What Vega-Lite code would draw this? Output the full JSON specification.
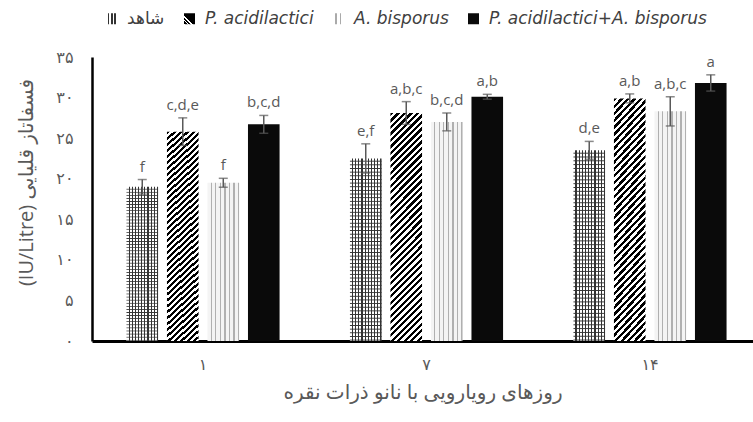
{
  "$schema": "https://vega.github.io/schema/vega-lite/v6.json",
  "width": 661,
  "height": 284,
  "autosize": {"type": "none"},
  "padding": {"left": 92, "top": 57, "right": 0, "bottom": 81},
  "background": "#ffffff",
  "config": {"view": {"stroke": null}, "font": "Open Sans, DejaVu Sans"},
  "params": [
    {"name": "gA", "value": {"gradient": "linear", "x1": 0, "y1": 0, "x2": 1, "y2": 0, "stops": [
      {"offset": 0, "color": "#fff"}, {"offset": 0.065, "color": "#fff"}, {"offset": 0.065, "color": "#333"}, {"offset": 0.1, "color": "#333"},
      {"offset": 0.1, "color": "#fff"}, {"offset": 0.165, "color": "#fff"}, {"offset": 0.165, "color": "#333"}, {"offset": 0.2, "color": "#333"},
      {"offset": 0.2, "color": "#fff"}, {"offset": 0.265, "color": "#fff"}, {"offset": 0.265, "color": "#333"}, {"offset": 0.3, "color": "#333"},
      {"offset": 0.3, "color": "#fff"}, {"offset": 0.365, "color": "#fff"}, {"offset": 0.365, "color": "#333"}, {"offset": 0.4, "color": "#333"},
      {"offset": 0.4, "color": "#fff"}, {"offset": 0.465, "color": "#fff"}, {"offset": 0.465, "color": "#333"}, {"offset": 0.5, "color": "#333"},
      {"offset": 0.5, "color": "#fff"}, {"offset": 0.565, "color": "#fff"}, {"offset": 0.565, "color": "#333"}, {"offset": 0.6, "color": "#333"},
      {"offset": 0.6, "color": "#fff"}, {"offset": 0.665, "color": "#fff"}, {"offset": 0.665, "color": "#333"}, {"offset": 0.7, "color": "#333"},
      {"offset": 0.7, "color": "#fff"}, {"offset": 0.765, "color": "#fff"}, {"offset": 0.765, "color": "#333"}, {"offset": 0.8, "color": "#333"},
      {"offset": 0.8, "color": "#fff"}, {"offset": 0.865, "color": "#fff"}, {"offset": 0.865, "color": "#333"}, {"offset": 0.9, "color": "#333"},
      {"offset": 0.9, "color": "#fff"}, {"offset": 0.965, "color": "#fff"}, {"offset": 0.965, "color": "#333"}, {"offset": 1, "color": "#333"}
    ]}},
    {"name": "gLA", "value": {"gradient": "linear", "x1": 0, "y1": 0, "x2": 1, "y2": 0, "stops": [
      {"offset": 0, "color": "#fff"}, {"offset": 0.15, "color": "#fff"}, {"offset": 0.15, "color": "#333"}, {"offset": 0.3, "color": "#333"},
      {"offset": 0.3, "color": "#fff"}, {"offset": 0.45, "color": "#fff"}, {"offset": 0.45, "color": "#333"}, {"offset": 0.6, "color": "#333"},
      {"offset": 0.6, "color": "#fff"}, {"offset": 0.75, "color": "#fff"}, {"offset": 0.75, "color": "#333"}, {"offset": 0.9, "color": "#333"},
      {"offset": 0.9, "color": "#fff"}, {"offset": 1, "color": "#fff"}
    ]}},
    {"name": "gP", "value": {"gradient": "linear", "x1": 0, "y1": 0, "x2": 0.156, "y2": 1.12, "stops": [
      {"offset": 0, "color": "#000"},
      {"offset": 0.0125, "color": "#000"}, {"offset": 0.0125, "color": "#fff"},
      {"offset": 0.025, "color": "#fff"}, {"offset": 0.025, "color": "#000"},
      {"offset": 0.0375, "color": "#000"}, {"offset": 0.0375, "color": "#fff"},
      {"offset": 0.05, "color": "#fff"}, {"offset": 0.05, "color": "#000"},
      {"offset": 0.0625, "color": "#000"}, {"offset": 0.0625, "color": "#fff"},
      {"offset": 0.075, "color": "#fff"}, {"offset": 0.075, "color": "#000"},
      {"offset": 0.0875, "color": "#000"}, {"offset": 0.0875, "color": "#fff"},
      {"offset": 0.1, "color": "#fff"}, {"offset": 0.1, "color": "#000"},
      {"offset": 0.1125, "color": "#000"}, {"offset": 0.1125, "color": "#fff"},
      {"offset": 0.125, "color": "#fff"}, {"offset": 0.125, "color": "#000"},
      {"offset": 0.1375, "color": "#000"}, {"offset": 0.1375, "color": "#fff"},
      {"offset": 0.15, "color": "#fff"}, {"offset": 0.15, "color": "#000"},
      {"offset": 0.1625, "color": "#000"}, {"offset": 0.1625, "color": "#fff"},
      {"offset": 0.175, "color": "#fff"}, {"offset": 0.175, "color": "#000"},
      {"offset": 0.1875, "color": "#000"}, {"offset": 0.1875, "color": "#fff"},
      {"offset": 0.2, "color": "#fff"}, {"offset": 0.2, "color": "#000"},
      {"offset": 0.2125, "color": "#000"}, {"offset": 0.2125, "color": "#fff"},
      {"offset": 0.225, "color": "#fff"}, {"offset": 0.225, "color": "#000"},
      {"offset": 0.2375, "color": "#000"}, {"offset": 0.2375, "color": "#fff"},
      {"offset": 0.25, "color": "#fff"}, {"offset": 0.25, "color": "#000"},
      {"offset": 0.2625, "color": "#000"}, {"offset": 0.2625, "color": "#fff"},
      {"offset": 0.275, "color": "#fff"}, {"offset": 0.275, "color": "#000"},
      {"offset": 0.2875, "color": "#000"}, {"offset": 0.2875, "color": "#fff"},
      {"offset": 0.3, "color": "#fff"}, {"offset": 0.3, "color": "#000"},
      {"offset": 0.3125, "color": "#000"}, {"offset": 0.3125, "color": "#fff"},
      {"offset": 0.325, "color": "#fff"}, {"offset": 0.325, "color": "#000"},
      {"offset": 0.3375, "color": "#000"}, {"offset": 0.3375, "color": "#fff"},
      {"offset": 0.35, "color": "#fff"}, {"offset": 0.35, "color": "#000"},
      {"offset": 0.3625, "color": "#000"}, {"offset": 0.3625, "color": "#fff"},
      {"offset": 0.375, "color": "#fff"}, {"offset": 0.375, "color": "#000"},
      {"offset": 0.3875, "color": "#000"}, {"offset": 0.3875, "color": "#fff"},
      {"offset": 0.4, "color": "#fff"}, {"offset": 0.4, "color": "#000"},
      {"offset": 0.4125, "color": "#000"}, {"offset": 0.4125, "color": "#fff"},
      {"offset": 0.425, "color": "#fff"}, {"offset": 0.425, "color": "#000"},
      {"offset": 0.4375, "color": "#000"}, {"offset": 0.4375, "color": "#fff"},
      {"offset": 0.45, "color": "#fff"}, {"offset": 0.45, "color": "#000"},
      {"offset": 0.4625, "color": "#000"}, {"offset": 0.4625, "color": "#fff"},
      {"offset": 0.475, "color": "#fff"}, {"offset": 0.475, "color": "#000"},
      {"offset": 0.4875, "color": "#000"}, {"offset": 0.4875, "color": "#fff"},
      {"offset": 0.5, "color": "#fff"}, {"offset": 0.5, "color": "#000"},
      {"offset": 0.5125, "color": "#000"}, {"offset": 0.5125, "color": "#fff"},
      {"offset": 0.525, "color": "#fff"}, {"offset": 0.525, "color": "#000"},
      {"offset": 0.5375, "color": "#000"}, {"offset": 0.5375, "color": "#fff"},
      {"offset": 0.55, "color": "#fff"}, {"offset": 0.55, "color": "#000"},
      {"offset": 0.5625, "color": "#000"}, {"offset": 0.5625, "color": "#fff"},
      {"offset": 0.575, "color": "#fff"}, {"offset": 0.575, "color": "#000"},
      {"offset": 0.5875, "color": "#000"}, {"offset": 0.5875, "color": "#fff"},
      {"offset": 0.6, "color": "#fff"}, {"offset": 0.6, "color": "#000"},
      {"offset": 0.6125, "color": "#000"}, {"offset": 0.6125, "color": "#fff"},
      {"offset": 0.625, "color": "#fff"}, {"offset": 0.625, "color": "#000"},
      {"offset": 0.6375, "color": "#000"}, {"offset": 0.6375, "color": "#fff"},
      {"offset": 0.65, "color": "#fff"}, {"offset": 0.65, "color": "#000"},
      {"offset": 0.6625, "color": "#000"}, {"offset": 0.6625, "color": "#fff"},
      {"offset": 0.675, "color": "#fff"}, {"offset": 0.675, "color": "#000"},
      {"offset": 0.6875, "color": "#000"}, {"offset": 0.6875, "color": "#fff"},
      {"offset": 0.7, "color": "#fff"}, {"offset": 0.7, "color": "#000"},
      {"offset": 0.7125, "color": "#000"}, {"offset": 0.7125, "color": "#fff"},
      {"offset": 0.725, "color": "#fff"}, {"offset": 0.725, "color": "#000"},
      {"offset": 0.7375, "color": "#000"}, {"offset": 0.7375, "color": "#fff"},
      {"offset": 0.75, "color": "#fff"}, {"offset": 0.75, "color": "#000"},
      {"offset": 0.7625, "color": "#000"}, {"offset": 0.7625, "color": "#fff"},
      {"offset": 0.775, "color": "#fff"}, {"offset": 0.775, "color": "#000"},
      {"offset": 0.7875, "color": "#000"}, {"offset": 0.7875, "color": "#fff"},
      {"offset": 0.8, "color": "#fff"}, {"offset": 0.8, "color": "#000"},
      {"offset": 0.8125, "color": "#000"}, {"offset": 0.8125, "color": "#fff"},
      {"offset": 0.825, "color": "#fff"}, {"offset": 0.825, "color": "#000"},
      {"offset": 0.8375, "color": "#000"}, {"offset": 0.8375, "color": "#fff"},
      {"offset": 0.85, "color": "#fff"}, {"offset": 0.85, "color": "#000"},
      {"offset": 0.8625, "color": "#000"}, {"offset": 0.8625, "color": "#fff"},
      {"offset": 0.875, "color": "#fff"}, {"offset": 0.875, "color": "#000"},
      {"offset": 0.8875, "color": "#000"}, {"offset": 0.8875, "color": "#fff"},
      {"offset": 0.9, "color": "#fff"}, {"offset": 0.9, "color": "#000"},
      {"offset": 0.9125, "color": "#000"}, {"offset": 0.9125, "color": "#fff"},
      {"offset": 0.925, "color": "#fff"}, {"offset": 0.925, "color": "#000"},
      {"offset": 0.9375, "color": "#000"}, {"offset": 0.9375, "color": "#fff"},
      {"offset": 0.95, "color": "#fff"}, {"offset": 0.95, "color": "#000"},
      {"offset": 0.9625, "color": "#000"}, {"offset": 0.9625, "color": "#fff"},
      {"offset": 0.975, "color": "#fff"}, {"offset": 0.975, "color": "#000"},
      {"offset": 0.9875, "color": "#000"}, {"offset": 0.9875, "color": "#fff"},
      {"offset": 1, "color": "#fff"}
    ]}},
    {"name": "gL", "value": {"gradient": "linear", "x1": 0, "y1": 1, "x2": 0.5, "y2": 0.5, "stops": [
      {"offset": 0, "color": "#fff"}, {"offset": 0.1, "color": "#fff"}, {"offset": 0.1, "color": "#000"}, {"offset": 0.3, "color": "#000"},
      {"offset": 0.3, "color": "#fff"}, {"offset": 0.45, "color": "#fff"}, {"offset": 0.45, "color": "#000"}, {"offset": 0.65, "color": "#000"},
      {"offset": 0.65, "color": "#fff"}, {"offset": 0.8, "color": "#fff"}, {"offset": 0.8, "color": "#000"}, {"offset": 1, "color": "#000"}
    ]}},
    {"name": "gB", "value": {"gradient": "linear", "x1": 0, "y1": 0, "x2": 1, "y2": 0, "stops": [
      {"offset": 0, "color": "#f4f4f4"}, {"offset": 0.1, "color": "#f4f4f4"}, {"offset": 0.1, "color": "#b0b0b0"}, {"offset": 0.142857, "color": "#b0b0b0"},
      {"offset": 0.142857, "color": "#f4f4f4"}, {"offset": 0.242857, "color": "#f4f4f4"}, {"offset": 0.242857, "color": "#b0b0b0"}, {"offset": 0.285714, "color": "#b0b0b0"},
      {"offset": 0.285714, "color": "#f4f4f4"}, {"offset": 0.385714, "color": "#f4f4f4"}, {"offset": 0.385714, "color": "#b0b0b0"}, {"offset": 0.428571, "color": "#b0b0b0"},
      {"offset": 0.428571, "color": "#f4f4f4"}, {"offset": 0.528571, "color": "#f4f4f4"}, {"offset": 0.528571, "color": "#b0b0b0"}, {"offset": 0.571429, "color": "#b0b0b0"},
      {"offset": 0.571429, "color": "#f4f4f4"}, {"offset": 0.671429, "color": "#f4f4f4"}, {"offset": 0.671429, "color": "#b0b0b0"}, {"offset": 0.714286, "color": "#b0b0b0"},
      {"offset": 0.714286, "color": "#f4f4f4"}, {"offset": 0.814286, "color": "#f4f4f4"}, {"offset": 0.814286, "color": "#b0b0b0"}, {"offset": 0.857143, "color": "#b0b0b0"},
      {"offset": 0.857143, "color": "#f4f4f4"}, {"offset": 0.957143, "color": "#f4f4f4"}, {"offset": 0.957143, "color": "#b0b0b0"}, {"offset": 1, "color": "#b0b0b0"}
    ]}},
    {"name": "gLB", "value": {"gradient": "linear", "x1": 0, "y1": 0, "x2": 1, "y2": 0, "stops": [
      {"offset": 0, "color": "#fff"}, {"offset": 0.2, "color": "#fff"}, {"offset": 0.2, "color": "#aaa"}, {"offset": 0.35, "color": "#aaa"},
      {"offset": 0.35, "color": "#fff"}, {"offset": 0.6, "color": "#fff"}, {"offset": 0.6, "color": "#aaa"}, {"offset": 0.75, "color": "#aaa"},
      {"offset": 0.75, "color": "#fff"}, {"offset": 1, "color": "#fff"}
    ]}}
  ],
  "data": {"values": [
    {"day": "۱", "group": "شاهد", "mean": 19.0, "lo": 18.1, "hi": 19.9, "letter": "f"},
    {"day": "۱", "group": "P. acidilactici", "mean": 25.8, "lo": 24.1, "hi": 27.5, "letter": "c,d,e"},
    {"day": "۱", "group": "A. bisporus", "mean": 19.5, "lo": 18.95, "hi": 20.05, "letter": "f"},
    {"day": "۱", "group": "P. acidilactici+A. bisporus", "mean": 26.7, "lo": 25.6, "hi": 27.8, "letter": "b,c,d"},
    {"day": "۷", "group": "شاهد", "mean": 22.5, "lo": 20.7, "hi": 24.3, "letter": "e,f"},
    {"day": "۷", "group": "P. acidilactici", "mean": 28.1, "lo": 26.7, "hi": 29.5, "letter": "a,b,c"},
    {"day": "۷", "group": "A. bisporus", "mean": 27.0, "lo": 25.9, "hi": 28.1, "letter": "b,c,d"},
    {"day": "۷", "group": "P. acidilactici+A. bisporus", "mean": 30.1, "lo": 29.8, "hi": 30.4, "letter": "a,b"},
    {"day": "۱۴", "group": "شاهد", "mean": 23.5, "lo": 22.4, "hi": 24.6, "letter": "d,e"},
    {"day": "۱۴", "group": "P. acidilactici", "mean": 29.9, "lo": 29.35, "hi": 30.45, "letter": "a,b"},
    {"day": "۱۴", "group": "A. bisporus", "mean": 28.3, "lo": 26.5, "hi": 30.1, "letter": "a,b,c"},
    {"day": "۱۴", "group": "P. acidilactici+A. bisporus", "mean": 31.8, "lo": 30.8, "hi": 32.8, "letter": "a"}
  ]},
  "encoding": {
    "x": {"field": "day", "type": "nominal",
      "scale": {"domain": ["۱", "۷", "۱۴"], "paddingInner": 0.275, "paddingOuter": 0.1163, "align": 0.577},
      "axis": {"title": "روزهای رویارویی با نانو ذرات نقره", "labelAngle": 0, "ticks": false,
        "domainColor": "#000000", "domainWidth": 3, "labelFontSize": 16, "labelColor": "#595959",
        "labelPadding": 15, "titleFontSize": 20, "titleColor": "#595959", "titleFontWeight": "normal", "titlePadding": 10}},
    "xOffset": {"field": "group", "type": "nominal",
      "scale": {"domain": ["شاهد", "P. acidilactici", "A. bisporus", "P. acidilactici+A. bisporus"], "paddingInner": 0.22, "paddingOuter": 0.11}},
    "y": {"field": "mean", "type": "quantitative",
      "scale": {"domain": [0, 35], "nice": false},
      "axis": {"values": [0, 5, 10, 15, 20, 25, 30, 35], "grid": false, "ticks": false,
        "domainColor": "#000000", "domainWidth": 2.5, "labelFontSize": 16, "labelColor": "#595959", "labelPadding": 19,
        "labelExpr": "replace(replace(replace(replace(replace(datum.label,'0','۰'),'1','۱'),'2','۲'),'3','۳'),'5','۵')",
        "title": "(IU/Litre) فسفاتاز قلیایی", "titleFontSize": 20, "titleColor": "#595959", "titleFontWeight": "normal",
        "titleX": -66, "titleY": 125, "titleAngle": -90, "titleAlign": "center", "titleBaseline": "middle"}}
  },
  "layer": [
    {
      "mark": {"type": "point", "filled": true, "opacity": 0, "size": 0,
        "fill": {"expr": "(datum.group || datum.value) == 'شاهد' ? gLA : (datum.group || datum.value) == 'P. acidilactici' ? gL : (datum.group || datum.value) == 'A. bisporus' ? gLB : '#0a0a0a'"}},
      "encoding": {
        "shape": {"field": "group", "type": "nominal",
          "scale": {"domain": ["شاهد", "P. acidilactici", "A. bisporus", "P. acidilactici+A. bisporus"],
            "range": ["square", "square", "square", "square"]},
          "legend": {"orient": "none", "legendX": 11, "legendY": -47, "direction": "horizontal", "title": null,
            "symbolSize": 121, "symbolStrokeWidth": 0, "symbolOpacity": 1, "labelFontSize": 17, "labelFont": "DejaVu Sans",
            "labelFontStyle": {"expr": "datum.value == 'شاهد' ? 'normal' : 'italic'"},
            "labelColor": "#404040", "labelOffset": 7, "columnPadding": 16, "labelLimit": 400}}
      }
    },
    {
      "mark": {"type": "bar", "fill": {"expr": "datum.group == 'شاهد' ? gA : datum.group == 'P. acidilactici' ? gP : datum.group == 'A. bisporus' ? gB : '#0a0a0a'"}}
    },
    {
      "transform": [{"filter": "datum.group == 'شاهد'"}],
      "mark": {"type": "bar", "fill": {"gradient": "linear", "x1": 0, "y1": 0, "x2": 0, "y2": 1, "stops": [
        {"offset": 0, "color": "rgba(51,51,51,0)"}, {"offset": 0.01, "color": "rgba(51,51,51,0)"}, {"offset": 0.015, "color": "#333"},
        {"offset": 0.02, "color": "rgba(51,51,51,0)"}, {"offset": 0.03, "color": "rgba(51,51,51,0)"}, {"offset": 0.035, "color": "#333"},
        {"offset": 0.04, "color": "rgba(51,51,51,0)"}, {"offset": 0.05, "color": "rgba(51,51,51,0)"}, {"offset": 0.055, "color": "#333"},
        {"offset": 0.06, "color": "rgba(51,51,51,0)"}, {"offset": 0.07, "color": "rgba(51,51,51,0)"}, {"offset": 0.075, "color": "#333"},
        {"offset": 0.08, "color": "rgba(51,51,51,0)"}, {"offset": 0.09, "color": "rgba(51,51,51,0)"}, {"offset": 0.095, "color": "#333"},
        {"offset": 0.1, "color": "rgba(51,51,51,0)"}, {"offset": 0.11, "color": "rgba(51,51,51,0)"}, {"offset": 0.115, "color": "#333"},
        {"offset": 0.12, "color": "rgba(51,51,51,0)"}, {"offset": 0.13, "color": "rgba(51,51,51,0)"}, {"offset": 0.135, "color": "#333"},
        {"offset": 0.14, "color": "rgba(51,51,51,0)"}, {"offset": 0.15, "color": "rgba(51,51,51,0)"}, {"offset": 0.155, "color": "#333"},
        {"offset": 0.16, "color": "rgba(51,51,51,0)"}, {"offset": 0.17, "color": "rgba(51,51,51,0)"}, {"offset": 0.175, "color": "#333"},
        {"offset": 0.18, "color": "rgba(51,51,51,0)"}, {"offset": 0.19, "color": "rgba(51,51,51,0)"}, {"offset": 0.195, "color": "#333"},
        {"offset": 0.2, "color": "rgba(51,51,51,0)"}, {"offset": 0.21, "color": "rgba(51,51,51,0)"}, {"offset": 0.215, "color": "#333"},
        {"offset": 0.22, "color": "rgba(51,51,51,0)"}, {"offset": 0.23, "color": "rgba(51,51,51,0)"}, {"offset": 0.235, "color": "#333"},
        {"offset": 0.24, "color": "rgba(51,51,51,0)"}, {"offset": 0.25, "color": "rgba(51,51,51,0)"}, {"offset": 0.255, "color": "#333"},
        {"offset": 0.26, "color": "rgba(51,51,51,0)"}, {"offset": 0.27, "color": "rgba(51,51,51,0)"}, {"offset": 0.275, "color": "#333"},
        {"offset": 0.28, "color": "rgba(51,51,51,0)"}, {"offset": 0.29, "color": "rgba(51,51,51,0)"}, {"offset": 0.295, "color": "#333"},
        {"offset": 0.3, "color": "rgba(51,51,51,0)"}, {"offset": 0.31, "color": "rgba(51,51,51,0)"}, {"offset": 0.315, "color": "#333"},
        {"offset": 0.32, "color": "rgba(51,51,51,0)"}, {"offset": 0.33, "color": "rgba(51,51,51,0)"}, {"offset": 0.335, "color": "#333"},
        {"offset": 0.34, "color": "rgba(51,51,51,0)"}, {"offset": 0.35, "color": "rgba(51,51,51,0)"}, {"offset": 0.355, "color": "#333"},
        {"offset": 0.36, "color": "rgba(51,51,51,0)"}, {"offset": 0.37, "color": "rgba(51,51,51,0)"}, {"offset": 0.375, "color": "#333"},
        {"offset": 0.38, "color": "rgba(51,51,51,0)"}, {"offset": 0.39, "color": "rgba(51,51,51,0)"}, {"offset": 0.395, "color": "#333"},
        {"offset": 0.4, "color": "rgba(51,51,51,0)"}, {"offset": 0.41, "color": "rgba(51,51,51,0)"}, {"offset": 0.415, "color": "#333"},
        {"offset": 0.42, "color": "rgba(51,51,51,0)"}, {"offset": 0.43, "color": "rgba(51,51,51,0)"}, {"offset": 0.435, "color": "#333"},
        {"offset": 0.44, "color": "rgba(51,51,51,0)"}, {"offset": 0.45, "color": "rgba(51,51,51,0)"}, {"offset": 0.455, "color": "#333"},
        {"offset": 0.46, "color": "rgba(51,51,51,0)"}, {"offset": 0.47, "color": "rgba(51,51,51,0)"}, {"offset": 0.475, "color": "#333"},
        {"offset": 0.48, "color": "rgba(51,51,51,0)"}, {"offset": 0.49, "color": "rgba(51,51,51,0)"}, {"offset": 0.495, "color": "#333"},
        {"offset": 0.5, "color": "rgba(51,51,51,0)"}, {"offset": 0.51, "color": "rgba(51,51,51,0)"}, {"offset": 0.515, "color": "#333"},
        {"offset": 0.52, "color": "rgba(51,51,51,0)"}, {"offset": 0.53, "color": "rgba(51,51,51,0)"}, {"offset": 0.535, "color": "#333"},
        {"offset": 0.54, "color": "rgba(51,51,51,0)"}, {"offset": 0.55, "color": "rgba(51,51,51,0)"}, {"offset": 0.555, "color": "#333"},
        {"offset": 0.56, "color": "rgba(51,51,51,0)"}, {"offset": 0.57, "color": "rgba(51,51,51,0)"}, {"offset": 0.575, "color": "#333"},
        {"offset": 0.58, "color": "rgba(51,51,51,0)"}, {"offset": 0.59, "color": "rgba(51,51,51,0)"}, {"offset": 0.595, "color": "#333"},
        {"offset": 0.6, "color": "rgba(51,51,51,0)"}, {"offset": 0.61, "color": "rgba(51,51,51,0)"}, {"offset": 0.615, "color": "#333"},
        {"offset": 0.62, "color": "rgba(51,51,51,0)"}, {"offset": 0.63, "color": "rgba(51,51,51,0)"}, {"offset": 0.635, "color": "#333"},
        {"offset": 0.64, "color": "rgba(51,51,51,0)"}, {"offset": 0.65, "color": "rgba(51,51,51,0)"}, {"offset": 0.655, "color": "#333"},
        {"offset": 0.66, "color": "rgba(51,51,51,0)"}, {"offset": 0.67, "color": "rgba(51,51,51,0)"}, {"offset": 0.675, "color": "#333"},
        {"offset": 0.68, "color": "rgba(51,51,51,0)"}, {"offset": 0.69, "color": "rgba(51,51,51,0)"}, {"offset": 0.695, "color": "#333"},
        {"offset": 0.7, "color": "rgba(51,51,51,0)"}, {"offset": 0.71, "color": "rgba(51,51,51,0)"}, {"offset": 0.715, "color": "#333"},
        {"offset": 0.72, "color": "rgba(51,51,51,0)"}, {"offset": 0.73, "color": "rgba(51,51,51,0)"}, {"offset": 0.735, "color": "#333"},
        {"offset": 0.74, "color": "rgba(51,51,51,0)"}, {"offset": 0.75, "color": "rgba(51,51,51,0)"}, {"offset": 0.755, "color": "#333"},
        {"offset": 0.76, "color": "rgba(51,51,51,0)"}, {"offset": 0.77, "color": "rgba(51,51,51,0)"}, {"offset": 0.775, "color": "#333"},
        {"offset": 0.78, "color": "rgba(51,51,51,0)"}, {"offset": 0.79, "color": "rgba(51,51,51,0)"}, {"offset": 0.795, "color": "#333"},
        {"offset": 0.8, "color": "rgba(51,51,51,0)"}, {"offset": 0.81, "color": "rgba(51,51,51,0)"}, {"offset": 0.815, "color": "#333"},
        {"offset": 0.82, "color": "rgba(51,51,51,0)"}, {"offset": 0.83, "color": "rgba(51,51,51,0)"}, {"offset": 0.835, "color": "#333"},
        {"offset": 0.84, "color": "rgba(51,51,51,0)"}, {"offset": 0.85, "color": "rgba(51,51,51,0)"}, {"offset": 0.855, "color": "#333"},
        {"offset": 0.86, "color": "rgba(51,51,51,0)"}, {"offset": 0.87, "color": "rgba(51,51,51,0)"}, {"offset": 0.875, "color": "#333"},
        {"offset": 0.88, "color": "rgba(51,51,51,0)"}, {"offset": 0.89, "color": "rgba(51,51,51,0)"}, {"offset": 0.895, "color": "#333"},
        {"offset": 0.9, "color": "rgba(51,51,51,0)"}, {"offset": 0.91, "color": "rgba(51,51,51,0)"}, {"offset": 0.915, "color": "#333"},
        {"offset": 0.92, "color": "rgba(51,51,51,0)"}, {"offset": 0.93, "color": "rgba(51,51,51,0)"}, {"offset": 0.935, "color": "#333"},
        {"offset": 0.94, "color": "rgba(51,51,51,0)"}, {"offset": 0.95, "color": "rgba(51,51,51,0)"}, {"offset": 0.955, "color": "#333"},
        {"offset": 0.96, "color": "rgba(51,51,51,0)"}, {"offset": 0.97, "color": "rgba(51,51,51,0)"}, {"offset": 0.975, "color": "#333"},
        {"offset": 0.98, "color": "rgba(51,51,51,0)"}, {"offset": 0.99, "color": "rgba(51,51,51,0)"}, {"offset": 0.995, "color": "#333"},
        {"offset": 1, "color": "rgba(51,51,51,0)"}
      ]}}
    },
    {
      "mark": {"type": "rule", "color": "#595959", "strokeWidth": 1.5},
      "encoding": {
        "y": {"field": "lo", "type": "quantitative"},
        "y2": {"field": "hi"}
      }
    },
    {
      "mark": {"type": "tick", "orient": "horizontal", "color": "#595959", "size": 9, "thickness": 1.5},
      "encoding": {"y": {"field": "lo", "type": "quantitative"}}
    },
    {
      "mark": {"type": "tick", "orient": "horizontal", "color": "#595959", "size": 9, "thickness": 1.5},
      "encoding": {"y": {"field": "hi", "type": "quantitative"}}
    },
    {
      "mark": {"type": "text", "baseline": "bottom", "dy": -5, "fontSize": 15, "color": "#595959"},
      "encoding": {
        "y": {"field": "hi", "type": "quantitative"},
        "text": {"field": "letter"}
      }
    }
  ]
}
